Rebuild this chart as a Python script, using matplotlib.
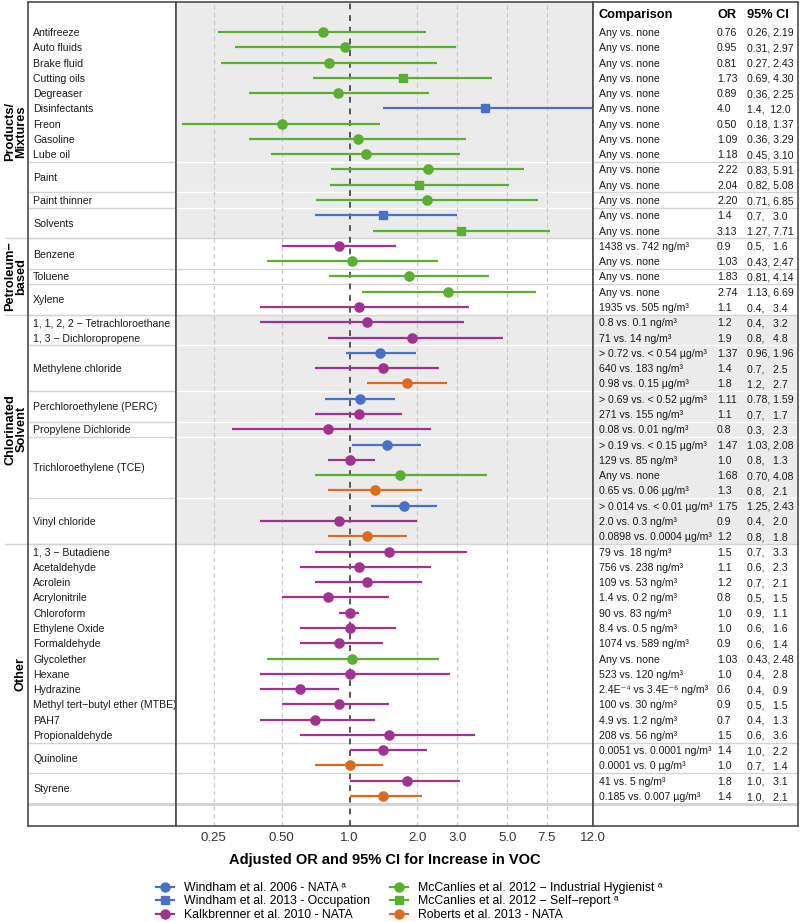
import matplotlib.pyplot as plt
from matplotlib.lines import Line2D
from matplotlib.transforms import blended_transform_factory
import matplotlib.ticker as mticker

plt.rcParams['font.family'] = ['Liberation Sans', 'DejaVu Sans']

# one entry per row, top to bottom
agents = ["Antifreeze", "Auto fluids", "Brake fluid", "Cutting oils", "Degreaser",
          "Disinfectants", "Freon", "Gasoline", "Lube oil",
          "Paint", "Paint", "Paint thinner", "Solvents", "Solvents",
          "Benzene", "Benzene", "Toluene", "Xylene", "Xylene",
          "1, 1, 2, 2 − Tetrachloroethane", "1, 3 − Dichloropropene",
          "Methylene chloride", "Methylene chloride", "Methylene chloride",
          "Perchloroethylene (PERC)", "Perchloroethylene (PERC)", "Propylene Dichloride",
          "Trichloroethylene (TCE)", "Trichloroethylene (TCE)", "Trichloroethylene (TCE)",
          "Trichloroethylene (TCE)",
          "Vinyl chloride", "Vinyl chloride", "Vinyl chloride",
          "1, 3 − Butadiene", "Acetaldehyde", "Acrolein", "Acrylonitrile", "Chloroform",
          "Ethylene Oxide", "Formaldehyde", "Glycolether", "Hexane", "Hydrazine",
          "Methyl tert−butyl ether (MTBE)", "PAH7", "Propionaldehyde",
          "Quinoline", "Quinoline", "Styrene", "Styrene"]

studies = ["MIH", "MIH", "MIH", "MSR", "MIH", "W13", "MIH", "MIH", "MIH",
           "MIH", "MSR", "MIH", "W13", "MSR",
           "K10", "MIH", "MIH", "MIH", "K10",
           "K10", "K10", "W06", "K10", "R13", "W06", "K10", "K10",
           "W06", "K10", "MIH", "R13", "W06", "K10", "R13",
           "K10", "K10", "K10", "K10", "K10", "K10", "K10", "MIH", "K10", "K10",
           "K10", "K10", "K10", "K10", "R13", "K10", "R13"]

comparisons = ["Any vs. none"] * 14 + [
    "1438 vs. 742 ng/m³", "Any vs. none", "Any vs. none", "Any vs. none",
    "1935 vs. 505 ng/m³",
    "0.8 vs. 0.1 ng/m³", "71 vs. 14 ng/m³",
    "> 0.72 vs. < 0.54 µg/m³", "640 vs. 183 ng/m³", "0.98 vs. 0.15 µg/m³",
    "> 0.69 vs. < 0.52 µg/m³", "271 vs. 155 ng/m³", "0.08 vs. 0.01 ng/m³",
    "> 0.19 vs. < 0.15 µg/m³", "129 vs. 85 ng/m³", "Any vs. none", "0.65 vs. 0.06 µg/m³",
    "> 0.014 vs. < 0.01 µg/m³", "2.0 vs. 0.3 ng/m³", "0.0898 vs. 0.0004 µg/m³",
    "79 vs. 18 ng/m³", "756 vs. 238 ng/m³", "109 vs. 53 ng/m³", "1.4 vs. 0.2 ng/m³",
    "90 vs. 83 ng/m³", "8.4 vs. 0.5 ng/m³", "1074 vs. 589 ng/m³", "Any vs. none",
    "523 vs. 120 ng/m³", "2.4E⁻⁴ vs 3.4E⁻⁶ ng/m³", "100 vs. 30 ng/m³", "4.9 vs. 1.2 ng/m³",
    "208 vs. 56 ng/m³", "0.0051 vs. 0.0001 ng/m³", "0.0001 vs. 0 µg/m³",
    "41 vs. 5 ng/m³", "0.185 vs. 0.007 µg/m³"]

odds = ["0.76", "0.95", "0.81", "1.73", "0.89", "4.0", "0.50", "1.09", "1.18",
        "2.22", "2.04", "2.20", "1.4", "3.13",
        "0.9", "1.03", "1.83", "2.74", "1.1",
        "1.2", "1.9", "1.37", "1.4", "1.8", "1.11", "1.1", "0.8",
        "1.47", "1.0", "1.68", "1.3", "1.75", "0.9", "1.2",
        "1.5", "1.1", "1.2", "0.8", "1.0", "1.0", "0.9", "1.03", "1.0", "0.6",
        "0.9", "0.7", "1.5", "1.4", "1.0", "1.8", "1.4"]

ci_low = ["0.26", "0.31", "0.27", "0.69", "0.36", "1.4", "0.18", "0.36", "0.45",
          "0.83", "0.82", "0.71", "0.7", "1.27",
          "0.5", "0.43", "0.81", "1.13", "0.4",
          "0.4", "0.8", "0.96", "0.7", "1.2", "0.78", "0.7", "0.3",
          "1.03", "0.8", "0.70", "0.8", "1.25", "0.4", "0.8",
          "0.7", "0.6", "0.7", "0.5", "0.9", "0.6", "0.6", "0.43", "0.4", "0.4",
          "0.5", "0.4", "0.6", "1.0", "0.7", "1.0", "1.0"]

ci_high = ["2.19", "2.97", "2.43", "4.30", "2.25", "12.0", "1.37", "3.29", "3.10",
           "5.91", "5.08", "6.85", "3.0", "7.71",
           "1.6", "2.47", "4.14", "6.69", "3.4",
           "3.2", "4.8", "1.96", "2.5", "2.7", "1.59", "1.7", "2.3",
           "2.08", "1.3", "4.08", "2.1", "2.43", "2.0", "1.8",
           "3.3", "2.3", "2.1", "1.5", "1.1", "1.6", "1.4", "2.48", "2.8", "0.9",
           "1.5", "1.3", "3.6", "2.2", "1.4", "3.1", "2.1"]

groups = ["Products/\nMixtures", "Petroleum−\nbased", "Chlorinated\nSolvent", "Other"]
group_rows = [14, 5, 15, 17]
shaded = [True, False, True, False]

series = {
    "W06": ("Windham et al. 2006 - NATA ᵃ", "#4A70C6", "o"),
    "W13": ("Windham et al. 2013 - Occupation", "#4A70C6", "s"),
    "K10": ("Kalkbrenner et al. 2010 - NATA", "#A0338F", "o"),
    "MIH": ("McCanlies et al. 2012 − Industrial Hygienist ᵃ", "#5AAE32", "o"),
    "MSR": ("McCanlies et al. 2012 − Self−report ᵃ", "#5AAE32", "s"),
    "R13": ("Roberts et al. 2013 - NATA", "#DB6C1F", "o"),
}

n = len(agents)
ylim = (n + 0.96, -1.96)
bg = "#EBEBEB"
sepc = "#D4D4D4"
frame = "#4D4D4D"

fig = plt.figure(figsize=(8, 9.22), dpi=100)
bot, top = 1 - 826 / 922, 1 - 2 / 922
h = top - bot
ax_lab = fig.add_axes([28 / 800, bot, 148 / 800, h])
ax = fig.add_axes([176 / 800, bot, 417 / 800, h])
ax_tab = fig.add_axes([593 / 800, bot, 205 / 800, h])

for a in (ax_lab, ax, ax_tab):
    a.set_ylim(*ylim)
    a.set_yticks([])
    for s in a.spines.values():
        s.set_color(frame)
        s.set_linewidth(1.2)
ax_lab.set_xticks([])
ax_tab.set_xticks([])
ax_lab.set_xlim(0, 1)
ax_tab.set_xlim(0, 1)

# section bounds
starts = [0]
for g in group_rows[:-1]:
    starts.append(starts[-1] + g)
bounds = []
for st, g in zip(starts, group_rows):
    lo = -2.5 if st == 0 else st - 0.5
    hi = st + g - 0.5
    bounds.append((lo, hi))

for (lo, hi), sh in zip(bounds, shaded):
    if sh:
        ax.axhspan(lo, hi, color=bg, zorder=0, lw=0)
# the table only shades the chlorinated block
ax_tab.axhspan(bounds[2][0], bounds[2][1], color=bg, zorder=0, lw=0)

# separators between agent blocks
blocks = []
i = 0
while i < n:
    j = i
    while j + 1 < n and agents[j + 1] == agents[i]:
        j += 1
    blocks.append((i, j))
    i = j + 1

major = [st - 0.5 for st in starts[1:]]
seps = []
for (a0, a1), (b0, b1) in zip(blocks[:-1], blocks[1:]):
    y = a1 + 0.5
    if y in major or a1 > a0 or b1 > b0:
        seps.append(y)


def in_shade(y, which):
    for k in which:
        lo, hi = bounds[k]
        if lo <= y <= hi:
            return True
    return False


for y in seps:
    ax_lab.axhline(y, color=sepc, lw=1, zorder=1)
    ax.axhline(y, color="white" if in_shade(y, [0, 2]) and y not in major else sepc,
               lw=1, zorder=1)
    ax_tab.axhline(y, color="white" if in_shade(y, [2]) and y not in major else sepc,
                   lw=1, zorder=1)
last = n - 0.5
for a in (ax_lab, ax, ax_tab):
    a.axhline(last, color=sepc, lw=2.2, zorder=1)

tr_lab = blended_transform_factory(ax_lab.transAxes, ax_lab.transData)
for y in major:
    ax_lab.plot([-23 / 148, 1], [y, y], color=sepc, lw=1, transform=tr_lab, clip_on=False)

# forest plot
ax.set_xscale("log")
ax.set_xlim(0.17, 12.0)
ticks = [0.25, 0.5, 1.0, 2.0, 3.0, 5.0, 7.5, 12.0]
tick_labels = ["0.25", "0.50", "1.0", "2.0", "3.0", "5.0", "7.5", "12.0"]
ax.xaxis.set_major_locator(mticker.FixedLocator(ticks))
ax.xaxis.set_major_formatter(mticker.FixedFormatter(tick_labels))
ax.xaxis.set_minor_locator(mticker.NullLocator())
ax.tick_params(axis="x", length=0, pad=4, labelsize=9.5, labelcolor="#333333")
for t in ticks:
    if t == 1.0:
        ax.axvline(t, color="#555555", lw=1.4, ls=(0, (3, 3)), zorder=2)
    elif t < 12:
        ax.axvline(t, color="#C8C8C8", lw=0.8, ls=(0, (4, 3)), zorder=1)

for key, (label, color, marker) in series.items():
    rows = [k for k in range(n) if studies[k] == key]
    ax.hlines(rows, [float(ci_low[k]) for k in rows], [float(ci_high[k]) for k in rows],
              color=color, lw=1.6, zorder=3)
    ax.plot([float(odds[k]) for k in rows], rows, ls="none", marker=marker, color=color,
            ms=6.6 if marker == "o" else 6.0, zorder=4)

ax.set_xlabel("Adjusted OR and 95% CI for Increase in VOC", fontsize=10.5,
              fontweight="bold", labelpad=7)

# agent labels
for b0, b1 in blocks:
    ax_lab.text(0.034, (b0 + b1) / 2, agents[b0], transform=tr_lab, fontsize=7.6,
                va="center_baseline", ha="left", color="#1A1A1A")

# group labels
for g, st, cnt in zip(groups, starts, group_rows):
    xg = -12 / 148 if "\n" in g else -8 / 148
    ax_lab.text(xg, st + (cnt - 1) / 2, g, transform=tr_lab, rotation=90,
                fontsize=9.2, fontweight="bold", ha="center", va="center",
                multialignment="center", linespacing=0.9, clip_on=False)

# table
tr_tab = blended_transform_factory(ax_tab.transAxes, ax_tab.transData)
hy = -1.18
ax_tab.text(0.029, hy, "Comparison", transform=tr_tab, fontsize=9.2, fontweight="bold",
            va="center_baseline")
ax_tab.text(0.605, hy, "OR", transform=tr_tab, fontsize=9.2, fontweight="bold",
            va="center_baseline")
ax_tab.text(0.751, hy, "95% CI", transform=tr_tab, fontsize=9.2, fontweight="bold",
            va="center_baseline")
for k in range(n):
    ci_txt = f"{ci_low[k] + ',':<5} {ci_high[k]:>4}"
    ax_tab.text(0.029, k, comparisons[k], transform=tr_tab, fontsize=7.6,
                va="center_baseline", color="#1A1A1A")
    ax_tab.text(0.605, k, odds[k], transform=tr_tab, fontsize=7.6,
                va="center_baseline", color="#1A1A1A")
    ax_tab.text(0.751, k, ci_txt, transform=tr_tab, fontsize=7.6,
                va="center_baseline", color="#1A1A1A")

# legend
handles = []
labels = []
for key in ["W06", "W13", "K10", "MIH", "MSR", "R13"]:
    label, color, marker = series[key]
    handles.append(Line2D([0], [0], color=color, marker=marker, lw=1.6,
                          ms=6.5 if marker == "o" else 5.8))
    labels.append(label)
fig.legend(handles, labels, ncol=2, loc="upper left", bbox_to_anchor=(156 / 800, 1 - 882 / 922),
           frameon=False, fontsize=8.8, handlelength=1.5, handletextpad=0.8,
           columnspacing=1.6, labelspacing=0.12, borderpad=0, borderaxespad=0)

fig.savefig("out.png", dpi=100)
